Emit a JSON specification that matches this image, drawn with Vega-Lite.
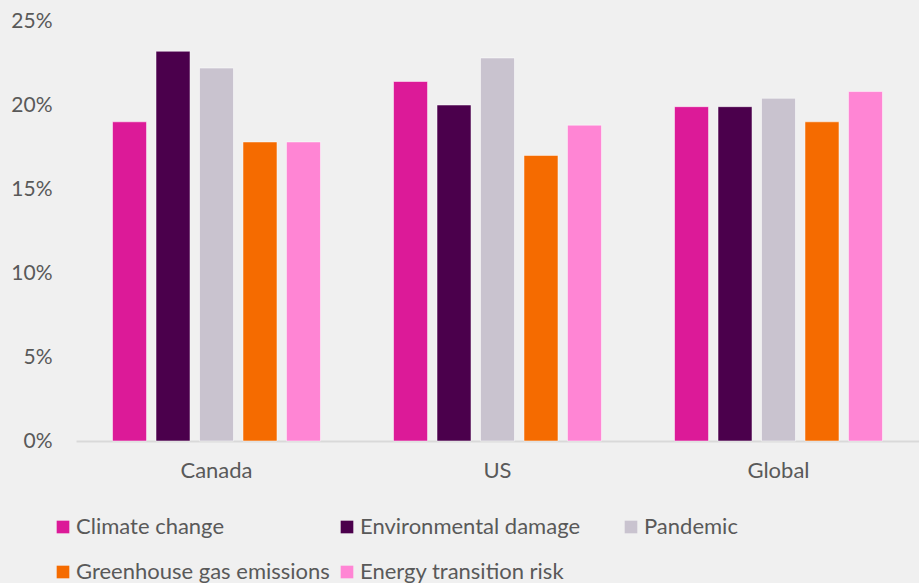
{
  "$schema": "https://vega.github.io/schema/vega-lite/v6.json",
  "autosize": {"type": "none"},
  "width": 843,
  "height": 420,
  "padding": {"left": 76, "top": 21, "right": 0, "bottom": 142},
  "background": "#f0f0f0",
  "config": {
    "view": {"stroke": null},
    "font": "Lato"
  },
  "data": {
    "values": [
      {"region": "Canada", "risk": "Climate change", "value": 0.190},
      {"region": "Canada", "risk": "Environmental damage", "value": 0.232},
      {"region": "Canada", "risk": "Pandemic", "value": 0.222},
      {"region": "Canada", "risk": "Greenhouse gas emissions", "value": 0.178},
      {"region": "Canada", "risk": "Energy transition risk", "value": 0.178},
      {"region": "US", "risk": "Climate change", "value": 0.214},
      {"region": "US", "risk": "Environmental damage", "value": 0.200},
      {"region": "US", "risk": "Pandemic", "value": 0.228},
      {"region": "US", "risk": "Greenhouse gas emissions", "value": 0.170},
      {"region": "US", "risk": "Energy transition risk", "value": 0.188},
      {"region": "Global", "risk": "Climate change", "value": 0.199},
      {"region": "Global", "risk": "Environmental damage", "value": 0.199},
      {"region": "Global", "risk": "Pandemic", "value": 0.204},
      {"region": "Global", "risk": "Greenhouse gas emissions", "value": 0.190},
      {"region": "Global", "risk": "Energy transition risk", "value": 0.208}
    ]
  },
  "mark": {"type": "bar", "stroke": "#ffffff", "strokeOpacity": 0.5, "strokeWidth": 1},
  "encoding": {
    "x": {
      "field": "region",
      "type": "nominal",
      "sort": ["Canada", "US", "Global"],
      "scale": {"paddingInner": 0.26, "paddingOuter": 0.13},
      "axis": {
        "title": null,
        "labelAngle": 0,
        "ticks": false,
        "domainColor": "#d9d9d9",
        "domainWidth": 2,
        "labelPadding": 19,
        "labelFontSize": 22,
        "labelColor": "#595959",
        "labelFont": "Lato"
      }
    },
    "xOffset": {
      "field": "risk",
      "type": "nominal",
      "sort": ["Climate change", "Environmental damage", "Pandemic", "Greenhouse gas emissions", "Energy transition risk"],
      "scale": {"paddingInner": 0.218, "paddingOuter": 0}
    },
    "y": {
      "field": "value",
      "type": "quantitative",
      "scale": {"domain": [0, 0.25], "nice": false},
      "axis": {
        "title": null,
        "format": ".0%",
        "values": [0, 0.05, 0.1, 0.15, 0.2, 0.25],
        "grid": false,
        "domain": false,
        "ticks": false,
        "labelPadding": 24,
        "labelFontSize": 21,
        "labelColor": "#595959",
        "labelFont": "Lato"
      }
    },
    "color": {
      "field": "risk",
      "type": "nominal",
      "sort": ["Climate change", "Environmental damage", "Pandemic", "Greenhouse gas emissions", "Energy transition risk"],
      "scale": {
        "domain": ["Climate change", "Environmental damage", "Pandemic", "Greenhouse gas emissions", "Energy transition risk"],
        "range": ["#dc1a98", "#4b004c", "#c9c3cf", "#f56b00", "#ff85d4"]
      },
      "legend": {
        "title": null,
        "orient": "none",
        "legendX": -24,
        "legendY": 495,
        "padding": 0,
        "direction": "horizontal",
        "columns": 3,
        "gridAlign": "all",
        "columnPadding": 6,
        "rowPadding": 23,
        "symbolType": "square",
        "symbolSize": 160,
        "symbolStrokeWidth": 0,
        "symbolOffset": 0,
        "labelOffset": 2,
        "labelFontSize": 22,
        "labelColor": "#595959",
        "labelFont": "Lato",
        "labelLimit": 400
      }
    }
  }
}
